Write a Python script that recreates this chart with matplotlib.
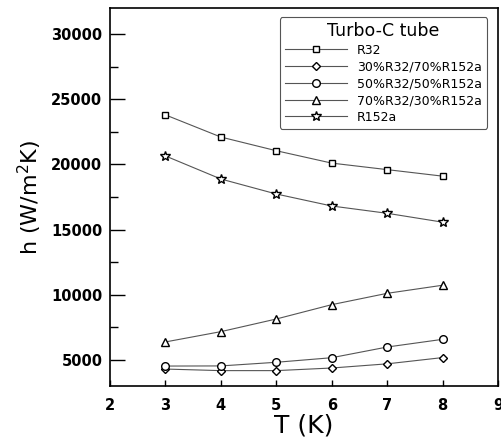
import numpy as np
import matplotlib
matplotlib.use('Agg')
import matplotlib.pyplot as plt
from matplotlib.ticker import MultipleLocator

plt.rcParams['font.family'] = ['DejaVu Sans']
plt.rcParams['mathtext.fontset'] = 'dejavusans'

T = [3, 4, 5, 6, 7, 8]
r32 = [23800, 22100, 21050, 20100, 19600, 19100]
r30_70 = [4300, 4180, 4180, 4380, 4700, 5180]
r50_50 = [4530, 4540, 4820, 5170, 5990, 6580]
r70_30 = [6380, 7170, 8140, 9240, 10110, 10730]
r152a = [20650, 18880, 17730, 16810, 16250, 15570]

labels = ['R32', '30%R32/70%R152a', '50%R32/50%R152a', '70%R32/30%R152a', 'R152a']
markers = ['s', 'D', 'o', '^', '*']
sizes = [5, 4.5, 5.5, 6, 7]
series = [r32, r30_70, r50_50, r70_30, r152a]

fig = plt.figure(figsize=(5.02, 4.38), dpi=100)
ax = fig.add_axes([110/502, 1 - 386/438, 388/502, 378/438])

for y, lab, m, s in zip(series, labels, markers, sizes):
    ax.plot(T, y, color='#555555', lw=0.8, marker=m, ms=s,
            mfc='white', mec='black', mew=1.0, label=lab)

ax.set_xlim(2, 9)
ax.set_ylim(3000, 32000)
ax.xaxis.set_major_locator(MultipleLocator(1))
ax.yaxis.set_major_locator(MultipleLocator(5000))
ax.yaxis.set_minor_locator(MultipleLocator(2500))
ax.set_yticks([5000, 10000, 15000, 20000, 25000, 30000])
ax.tick_params(axis='y', which='major', direction='in', length=11, width=1, labelsize=10.5, pad=5.5)
ax.tick_params(axis='y', which='minor', direction='in', length=6, width=1)
ax.tick_params(axis='x', which='major', direction='in', length=4.5, width=1, labelsize=10.5, pad=9)
for lab in ax.get_xticklabels() + ax.get_yticklabels():
    lab.set_fontweight('bold')
for sp in ax.spines.values():
    sp.set_linewidth(1.2)

ax.set_xlabel('T (K)', fontsize=18, labelpad=0)
ax.set_ylabel('h (W/m$^2$K)', fontsize=16, labelpad=5)

leg = ax.legend(loc='upper right', bbox_to_anchor=(0.972, 0.976), borderaxespad=0,
                title='Turbo-C tube', fontsize=9, title_fontsize=12.5, frameon=True,
                fancybox=True, edgecolor='#555555', handlelength=5.0, labelspacing=0.3,
                borderpad=0.4, handletextpad=0.8)
leg.get_frame().set_linewidth(0.8)
leg.get_frame().set_alpha(1)

plt.savefig('out.png', dpi=100)
